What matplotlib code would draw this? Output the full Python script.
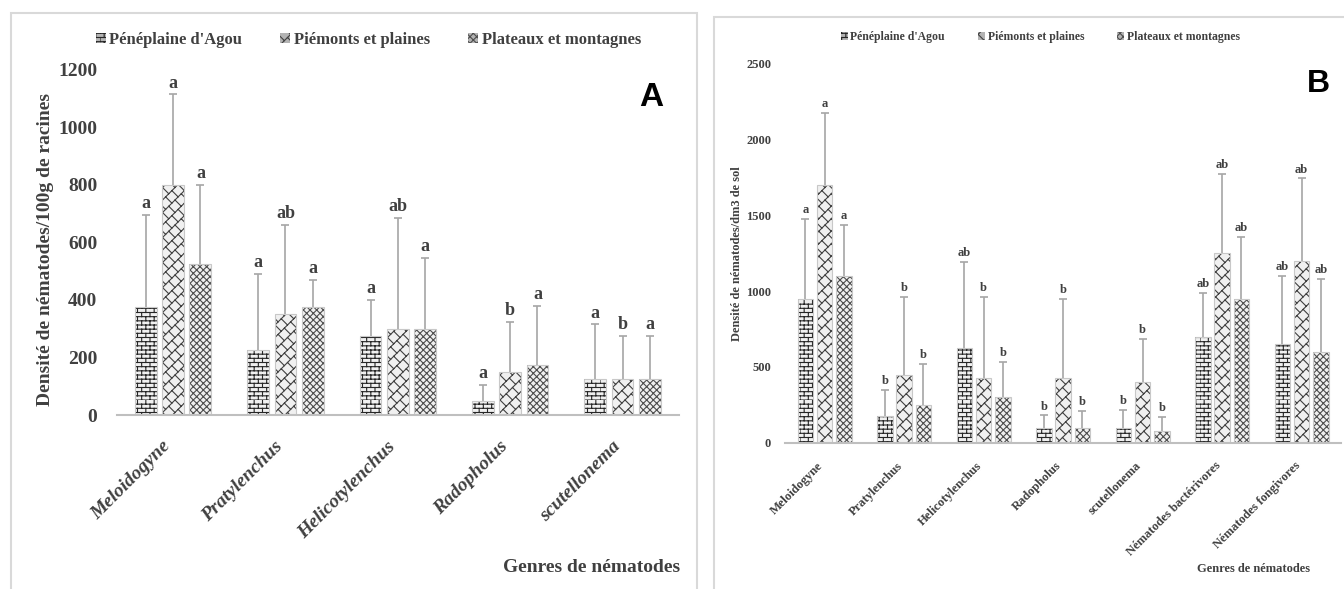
import warnings
import numpy as np
import matplotlib
matplotlib.use('Agg')
import matplotlib.pyplot as plt
from matplotlib import hatch as mhatch
from matplotlib.path import Path
from matplotlib.patches import Rectangle

warnings.filterwarnings('ignore')

# data
regions = ["Pénéplaine d'Agou", "Piémonts et plaines", "Plateaux et montagnes"]

genres_a = ['Meloidogyne', 'Pratylenchus', 'Helicotylenchus', 'Radopholus', 'scutellonema']
mean_a = [[375, 225, 275, 50, 125],
          [800, 350, 300, 150, 125],
          [525, 375, 300, 175, 125]]
top_a = [[695, 490, 400, 105, 315],
         [1115, 660, 685, 325, 275],
         [800, 470, 545, 380, 275]]
letters_a = [['a', 'a', 'a', 'a', 'a'],
             ['a', 'ab', 'ab', 'b', 'b'],
             ['a', 'a', 'a', 'a', 'a']]

genres_b = ['Meloidogyne', 'Pratylenchus', 'Helicotylenchus', 'Radopholus', 'scutellonema',
            'Nématodes bactérivores', 'Nématodes fongivores']
mean_b = [[950, 175, 625, 100, 100, 700, 650],
          [1700, 450, 425, 425, 400, 1250, 1200],
          [1100, 250, 300, 100, 75, 950, 600]]
top_b = [[1475, 350, 1195, 180, 215, 990, 1100],
         [2175, 960, 960, 950, 685, 1775, 1745],
         [1440, 520, 535, 210, 170, 1360, 1080]]
letters_b = [['a', 'b', 'ab', 'b', 'b', 'ab', 'ab'],
             ['a', 'b', 'b', 'b', 'b', 'ab', 'ab'],
             ['a', 'b', 'b', 'b', 'b', 'ab', 'ab']]


# custom hatches: 'b' = bricks, 'z' = shingles
class BrickHatch(mhatch.HatchPatternBase):
    def __init__(self, hatch, density):
        self.rows = hatch.count('b') * 8
        self.cols = self.rows // 2
        self.num_vertices = self.rows * (2 + 2 * self.cols) if self.rows else 0

    def set_vertices_and_codes(self, vertices, codes):
        k = 0
        for i in range(self.rows):
            y0 = i / self.rows
            y1 = (i + 1) / self.rows
            vertices[k] = (0, y0)
            vertices[k + 1] = (1, y0)
            codes[k] = Path.MOVETO
            codes[k + 1] = Path.LINETO
            k += 2
            for j in range(self.cols):
                x = (j + 0.5 * (i % 2)) / self.cols
                vertices[k] = (x, y0)
                vertices[k + 1] = (x, y1)
                codes[k] = Path.MOVETO
                codes[k + 1] = Path.LINETO
                k += 2


class ShingleHatch(mhatch.HatchPatternBase):
    def __init__(self, hatch, density):
        self.n = hatch.count('z') * 8
        self.m = self.n
        self.num_vertices = (self.n + 1) * 2 + self.n * self.m * 2 if self.n else 0

    def set_vertices_and_codes(self, vertices, codes):
        n, m = self.n, self.m
        d = 1.0 / n
        steps = np.linspace(-0.5, 0.5, n + 1)
        k = 0
        for s in steps:
            vertices[k] = (s, -s)
            vertices[k + 1] = (1 + s, 1 - s)
            codes[k] = Path.MOVETO
            codes[k + 1] = Path.LINETO
            k += 2
        for i in range(n):
            s = steps[i]
            for j in range(m):
                t = (j + 0.5 * (i % 2)) / m
                vertices[k] = (s + t, -s + t)
                vertices[k + 1] = (s + d + t, -s - d + t)
                codes[k] = Path.MOVETO
                codes[k + 1] = Path.LINETO
                k += 2


mhatch._hatch_types.append(BrickHatch)
mhatch._hatch_types.append(ShingleHatch)

plt.rcParams['font.family'] = ['Liberation Serif', 'DejaVu Serif']
plt.rcParams['font.weight'] = 'bold'
plt.rcParams['hatch.linewidth'] = 0.8
txt = '#404040'

hatches = ['bbb', 'zz', 'xxxxx']
hcolors = ['#262626', '#404040', '#4d4d4d']
face = '#f0f0f0'


def draw_panel(ax, genres, means, tops, letters, fs_tick, fs_let, fs_x, italic, off):
    x = np.arange(len(genres))
    w = 0.195
    step = 0.243
    for k in range(3):
        xs = x + (k - 1) * step
        m = np.array(means[k], dtype=float)
        t = np.array(tops[k], dtype=float)
        ax.bar(xs, m, w, color=face, edgecolor=hcolors[k], hatch=hatches[k],
               linewidth=0, label=regions[k], zorder=2)
        ax.bar(xs, m, w, fill=False, edgecolor='#c8c8c8', linewidth=0.8, zorder=2)
        eb = ax.errorbar(xs, m, yerr=[np.zeros_like(m), t - m], fmt='none',
                         ecolor='#a6a6a6', elinewidth=1.2, capsize=3, capthick=1.2, zorder=3)
        eb[1][0].set_visible(False)
        for xi, ti, lab in zip(xs, t, letters[k]):
            ax.annotate(lab, (xi, ti), xytext=(0, 2), textcoords='offset points',
                        ha='center', va='bottom', fontsize=fs_let, color=txt)
    ax.set_xlim(-0.5, len(genres) - 0.5)
    ax.set_xticks(x)
    ax.set_xticklabels([])
    # category names, rotated
    for xi, g in zip(x, genres):
        ax.annotate(g, (xi, 0), xycoords=('data', 'axes fraction'), xytext=off,
                    textcoords='offset points', rotation=45, rotation_mode='anchor',
                    ha='right', va='top', fontsize=fs_x, color=txt,
                    style='italic' if italic else 'normal')
    for sp in ['top', 'right', 'left']:
        ax.spines[sp].set_visible(False)
    ax.spines['bottom'].set_color('#bfbfbf')
    ax.spines['bottom'].set_linewidth(1.5)
    ax.tick_params(length=0, labelsize=fs_tick, labelcolor=txt)
    ax.set_facecolor('none')


def add_legend(ax, center, fs, spacing):
    h, l = ax.get_legend_handles_labels()
    leg = fig.legend(h, l, loc='center', bbox_to_anchor=center, ncol=3, frameon=False,
                     fontsize=fs, handlelength=0.6, handleheight=0.6, handletextpad=0.2,
                     columnspacing=spacing, labelcolor=txt)
    for p in leg.legend_handles:
        p.set_facecolor('#b3b3b3')
    return leg


fig = plt.figure(figsize=(13.44, 5.89), dpi=100)

# panel frames
fig.patches.append(Rectangle((0.0082, -0.1), 0.5104, 1.078, transform=fig.transFigure,
                             fill=False, edgecolor='#d9d9d9', linewidth=1.5))
fig.patches.append(Rectangle((0.531, -0.1), 0.6, 1.071, transform=fig.transFigure,
                             fill=False, edgecolor='#d9d9d9', linewidth=1.5))

axA = fig.add_axes([0.087, 0.2954, 0.418, 0.586])
draw_panel(axA, genres_a, mean_a, top_a, letters_a, 14, 13, 14, True, (-8, -16.5))
axA.set_ylim(0, 1200)
axA.set_yticks(np.arange(0, 1201, 200))
axA.tick_params(axis='y', pad=14)
fig.text(0.0335, 0.5756, 'Densité de nématodes/100g de racines', rotation=90,
         ha='center', va='center', fontsize=14, color=txt)
fig.text(0.506, 0.036, 'Genres de nématodes', ha='right', va='center', fontsize=14, color=txt)
fig.text(0.4844, 0.835, 'A', ha='center', va='center', fontsize=24,
         family='Liberation Sans', weight='bold', color='black')
add_legend(axA, (0.274, 0.932), 12, 2.3)

axB = fig.add_axes([0.584, 0.2484, 0.414, 0.643])
draw_panel(axB, genres_b, mean_b, top_b, letters_b, 9, 9, 9, False, (-5.5, -12.3))
axB.set_ylim(0, 2500)
axB.set_yticks(np.arange(0, 2501, 500))
axB.tick_params(axis='y', pad=10)
fig.text(0.548, 0.570, 'Densité de nématodes/dm3 de sol', rotation=90,
         ha='center', va='center', fontsize=9, color=txt)
fig.text(0.975, 0.034, 'Genres de nématodes', ha='right', va='center', fontsize=9, color=txt)
fig.text(0.9807, 0.857, 'B', ha='center', va='center', fontsize=23,
         family='Liberation Sans', weight='bold', color='black')
add_legend(axB, (0.774, 0.937), 8.5, 2.8)

fig.savefig('out.png', dpi=100)
